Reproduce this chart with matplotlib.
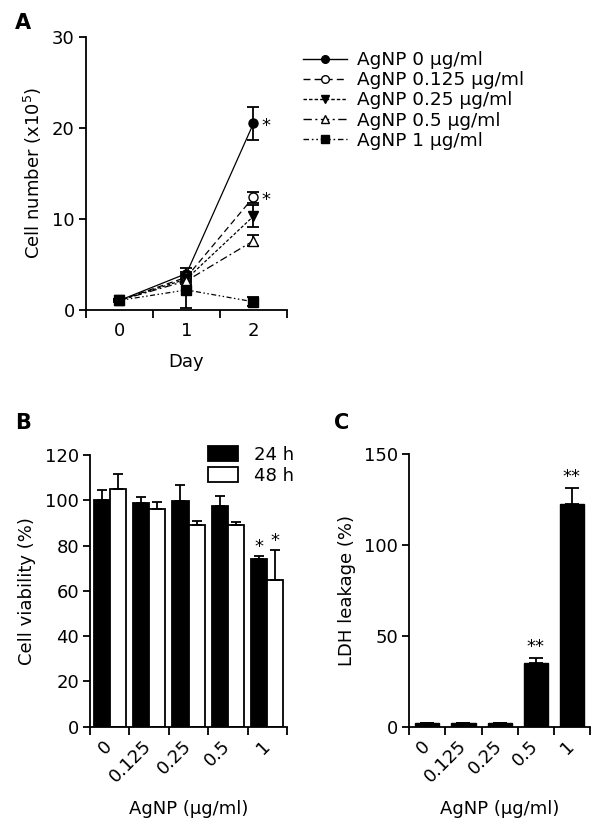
import numpy as np
import matplotlib
matplotlib.use("Agg")
import matplotlib.pyplot as plt
from matplotlib.patches import Patch
from matplotlib.lines import Line2D

plt.rcParams["font.family"] = ["DejaVu Sans"]
plt.rcParams["mathtext.default"] = "regular"

# ---- Panel A: cell number over days ----
days = [0, 1, 2]
conc_labels = ["AgNP 0 \u03bcg/ml", "AgNP 0.125 \u03bcg/ml", "AgNP 0.25 \u03bcg/ml",
               "AgNP 0.5 \u03bcg/ml", "AgNP 1 \u03bcg/ml"]
cell_0 = [1.05, 4.0, 20.5]
cell_0125 = [1.05, 3.6, 12.4]
cell_025 = [1.05, 3.4, 10.3]
cell_05 = [1.05, 3.2, 7.6]
cell_1 = [1.05, 2.2, 0.9]
err_0 = [0.15, 0.6, 1.8]
err_0125 = [0.1, 0.4, 0.6]
err_025 = [0.1, 0.3, 1.2]
err_05 = [0.1, 0.3, 0.6]
err_1 = [0.1, 2.0, 0.5]
sig_a = ["*", "*", "", "", ""]   # asterisk at day 2

# ---- Panel B: viability ----
doses = ["0", "0.125", "0.25", "0.5", "1"]
viab_24 = [100.1, 98.6, 99.6, 97.7, 74.2]
viab_24_err = [4.6, 2.9, 7.2, 4.2, 1.0]
viab_48 = [105.0, 96.2, 89.3, 89.3, 64.8]
viab_48_err = [6.6, 3.1, 1.7, 1.0, 13.2]
sig_24 = ["", "", "", "", "*"]
sig_48 = ["", "", "", "", "*"]

# ---- Panel C: LDH leakage ----
ldh = [1.8, 1.8, 1.8, 34.9, 122.6]
ldh_err = [0.0, 0.0, 0.0, 2.7, 9.0]
sig_ldh = ["", "", "", "**", "**"]

FS = 13
SPINE_W = 1.3


def style_axes(ax):
    ax.spines["top"].set_visible(False)
    ax.spines["right"].set_visible(False)
    for s in ("left", "bottom"):
        ax.spines[s].set_linewidth(SPINE_W)
    ax.tick_params(axis="y", which="major", length=5, width=SPINE_W,
                   labelsize=FS, pad=3)
    ax.tick_params(axis="x", which="major", length=0, labelsize=FS)
    ax.tick_params(axis="x", which="minor", length=5.5, width=SPINE_W)


fig = plt.figure(figsize=(6.05, 8.27), dpi=100)

# ================= A =================
axA = fig.add_axes([0.1421, 0.6252, 0.3322, 0.3301])
series = [cell_0, cell_0125, cell_025, cell_05, cell_1]
errs = [err_0, err_0125, err_025, err_05, err_1]
markers = ["o", "o", "v", "^", "s"]
mfaces = ["black", "white", "black", "white", "black"]
styles = ["-", (0, (5, 3)), (0, (2.5, 1.5)), (0, (6, 2.5, 1.5, 2.5)),
          (0, (4, 2, 1.2, 2, 1.2, 2))]
handles = []
for vals, e, m, fc, ls, lab in zip(series, errs, markers, mfaces, styles, conc_labels):
    axA.errorbar(days, vals, yerr=e, fmt="none", ecolor="black",
                 elinewidth=1.3, capsize=4.5, capthick=1.3, zorder=3)
    axA.plot(days, vals, color="black", lw=0.9, ls=ls, zorder=2)
    axA.plot(days, vals, ls="none", marker=m, ms=6.5, mfc=fc, mec="black",
             mew=1.0, zorder=4)
    handles.append(Line2D([], [], color="black", lw=1.0, ls=ls, marker=m,
                          ms=5.5, mfc=fc, mec="black", mew=1.0, label=lab))
for vals, s in zip(series, sig_a):
    if s:
        axA.annotate(s, (days[-1], vals[-1]), xytext=(6, -2),
                     textcoords="offset points", ha="left", va="center",
                     fontsize=FS)
axA.set_xlim(-0.5, 2.5)
axA.set_ylim(0, 30)
axA.set_yticks([0, 10, 20, 30])
axA.set_xticks(days)
axA.set_xticks([-0.5, 0.5, 1.5, 2.5], minor=True)
style_axes(axA)
axA.tick_params(axis="x", which="major", pad=9)
axA.set_xlabel("Day", fontsize=FS, labelpad=9)
axA.set_ylabel("Cell number (x10$^5$)", fontsize=FS, labelpad=6)
axA.legend(handles=handles, loc="upper left", frameon=False, fontsize=13.3,
           bbox_to_anchor=(303 / 605, 1 - 51 / 827),
           bbox_transform=fig.transFigure, borderpad=0, borderaxespad=0,
           handlelength=2.4, handletextpad=0.55, labelspacing=0.12)

# ================= B =================
axB = fig.add_axes([0.1488, 0.1213, 0.3256, 0.3285])
x = np.arange(len(doses))
w = 0.41
off = 0.205
axB.bar(x - off, viab_24, width=w, color="black", edgecolor="black",
        lw=1.3, zorder=2, label="24 h")
axB.bar(x + off, viab_48, width=w, color="white", edgecolor="black",
        lw=1.3, zorder=2, label="48 h")
axB.errorbar(x - off, viab_24, yerr=[np.zeros(len(x)), viab_24_err],
             fmt="none", ecolor="black", elinewidth=1.3, capsize=3.5,
             capthick=1.3, zorder=3)
axB.errorbar(x + off, viab_48, yerr=[np.zeros(len(x)), viab_48_err],
             fmt="none", ecolor="black", elinewidth=1.3, capsize=3.5,
             capthick=1.3, zorder=3)
for xi, v, e, s in zip(x - off, viab_24, viab_24_err, sig_24):
    if s:
        axB.annotate(s, (xi, v + e), xytext=(0, 0), textcoords="offset points",
                     ha="center", va="bottom", fontsize=FS)
for xi, v, e, s in zip(x + off, viab_48, viab_48_err, sig_48):
    if s:
        axB.annotate(s, (xi, v + e), xytext=(0, 0), textcoords="offset points",
                     ha="center", va="bottom", fontsize=FS)
axB.set_xlim(-0.5, 4.5)
axB.set_ylim(0, 120)
axB.set_yticks(np.arange(0, 121, 20))
axB.set_xticks(x)
axB.set_xticklabels(doses, rotation=45, ha="right", va="center",
                    rotation_mode="anchor")
axB.set_xticks(np.arange(-0.5, 4.6, 1), minor=True)
style_axes(axB)
axB.tick_params(axis="x", which="major", pad=12)
axB.set_xlabel("AgNP (\u03bcg/ml)", fontsize=FS, labelpad=10)
axB.set_ylabel("Cell viability (%)", fontsize=FS, labelpad=6)
axB.legend(handles=[Patch(facecolor="black", edgecolor="black", lw=1.3, label="24 h"),
                    Patch(facecolor="white", edgecolor="black", lw=1.3, label="48 h")],
           loc="upper left", frameon=False, fontsize=FS,
           bbox_to_anchor=(208 / 605, 1 - 446 / 827),
           bbox_transform=fig.transFigure, borderpad=0, borderaxespad=0,
           handlelength=1.65, handleheight=0.9, handletextpad=0.9,
           labelspacing=0.15)

# ================= C =================
axC = fig.add_axes([0.6765, 0.1213, 0.2987, 0.3294])
axC.bar(x, ldh, width=0.67, color="black", edgecolor="black", lw=1.0, zorder=2)
axC.errorbar(x, ldh, yerr=[np.zeros(len(x)), ldh_err], fmt="none",
             ecolor="black", elinewidth=1.3, capsize=5, capthick=1.3, zorder=3)
for xi, v, e, s in zip(x, ldh, ldh_err, sig_ldh):
    if s:
        axC.annotate(s, (xi, v + e), xytext=(0, 1.5), textcoords="offset points",
                     ha="center", va="bottom", fontsize=FS)
axC.set_xlim(-0.5, 4.5)
axC.set_ylim(0, 150)
axC.set_yticks([0, 50, 100, 150])
axC.set_xticks(x)
axC.set_xticklabels(doses, rotation=45, ha="right", va="center",
                    rotation_mode="anchor")
axC.set_xticks(np.arange(-0.5, 4.6, 1), minor=True)
style_axes(axC)
axC.tick_params(axis="x", which="major", pad=12)
axC.set_xlabel("AgNP (\u03bcg/ml)", fontsize=FS, labelpad=10)
axC.set_ylabel("LDH leakage (%)", fontsize=FS, labelpad=6)

# panel letters
for lab, px, py in (("A", 23, 23), ("B", 23, 423), ("C", 342, 423)):
    fig.text(px / 605, 1 - py / 827, lab, fontsize=15, fontweight="bold",
             ha="center", va="center")

fig.savefig("out.png", dpi=100, facecolor="white")
